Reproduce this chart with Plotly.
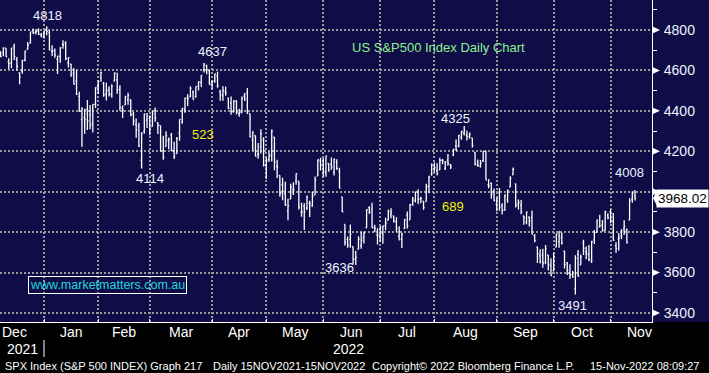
import pandas as pd
import plotly.graph_objects as go

# ---------------- data (S&P 500 daily OHLC, Dec 2021 - Nov 2022) ----------------
HOLIDAYS = ["2021-12-24", "2022-01-17", "2022-02-21", "2022-04-15",
            "2022-05-30", "2022-06-20", "2022-07-04", "2022-09-05"]
dates = pd.bdate_range("2021-12-01", "2022-11-14", freq="C",
                       holidays=HOLIDAYS).strftime("%Y-%m-%d").tolist()

open_px = [
    4602.82, 4504.73, 4589.49, 4548.37, 4631.97, 4690.86, 4691.00, 4687.64, 4710.30, 4642.99, 4636.46, 4719.13, 4652.50, 4587.90, 4594.96, 4650.36, 4703.96, 4733.99, 4795.49, 4788.64, 4794.23, 4775.21,
    4778.14, 4804.51, 4787.99, 4693.39, 4697.66, 4655.34, 4669.14, 4728.59, 4733.56, 4637.99, 4632.24, 4588.03, 4547.35, 4471.38, 4356.32, 4366.64, 4408.43, 4380.58, 4336.19, 4431.79,
    4519.57, 4566.39, 4535.41, 4482.79, 4505.75, 4480.02, 4547.00, 4553.24, 4506.27, 4412.61, 4429.28, 4455.75, 4456.06, 4384.57, 4332.74, 4324.93, 4155.77, 4298.38, 4354.17,
    4363.14, 4322.56, 4401.31, 4342.12, 4327.01, 4202.66, 4223.10, 4252.55, 4279.50, 4202.75, 4188.82, 4288.14, 4345.11, 4407.34, 4462.40, 4469.10, 4493.10, 4469.98, 4522.66, 4541.09, 4602.86, 4624.20, 4599.02,
    4540.32, 4547.97, 4572.45, 4494.17, 4474.65, 4494.15, 4462.64, 4437.59, 4394.30, 4449.12, 4385.63, 4390.63, 4472.26, 4489.17, 4385.83, 4255.34, 4278.14, 4186.52, 4222.58, 4253.75,
    4130.61, 4159.78, 4181.18, 4270.43, 4128.17, 4081.27, 4035.18, 3990.08, 3903.95, 3963.90, 4013.02, 4052.00, 4051.98, 3899.00, 3927.76, 3919.42, 3942.94, 3929.59, 3984.60, 4077.43, 4151.09,
    4149.78, 4095.41, 4137.57, 4134.72, 4096.47, 4147.12, 4101.65, 3974.39, 3838.15, 3763.52, 3764.05, 3728.18, 3665.90, 3715.31, 3733.89, 3774.71, 3821.75, 3920.76, 3913.00, 3825.09, 3785.99,
    3781.00, 3792.61, 3831.98, 3858.85, 3888.26, 3880.94, 3851.95, 3779.67, 3763.99, 3818.00, 3883.79, 3860.73, 3935.32, 3955.47, 3998.43, 3965.72, 3953.22, 3951.43, 4026.13, 4087.33,
    4112.38, 4104.21, 4107.96, 4154.85, 4115.87, 4155.93, 4133.11, 4181.02, 4227.40, 4225.02, 4269.37, 4290.46, 4280.40, 4273.13, 4266.31, 4195.08, 4133.09, 4126.55, 4153.26, 4198.74, 4034.58, 4041.25, 4000.67,
    3936.73, 3994.66, 3930.89, 3909.43, 3959.94, 4022.94, 4083.67, 4039.00, 3940.73, 3932.41, 3880.95, 3849.91, 3875.23, 3871.40, 3782.36, 3727.14, 3682.72, 3686.44, 3651.94, 3687.01, 3633.48,
    3609.78, 3726.46, 3753.25, 3771.97, 3706.74, 3647.51, 3595.86, 3590.83, 3520.37, 3690.41, 3638.65, 3746.26, 3703.11, 3689.05, 3657.10, 3762.01, 3799.44, 3825.97, 3834.69, 3808.26, 3881.85,
    3901.79, 3852.90, 3733.25, 3766.98, 3780.71, 3817.02, 3810.94, 3859.89, 3963.72, 3977.97,
]
high_px = [
    4652.94, 4595.46, 4608.03, 4612.60, 4694.04, 4705.06, 4695.26, 4713.57, 4710.30, 4660.47, 4712.60, 4731.99, 4666.70, 4591.03, 4651.14, 4697.67, 4740.74, 4791.49, 4807.02, 4804.06, 4808.93, 4786.83,
    4796.64, 4818.62, 4797.70, 4725.01, 4707.95, 4673.02, 4714.13, 4748.83, 4744.13, 4665.13, 4632.24, 4611.55, 4602.11, 4494.52, 4417.35, 4411.01, 4453.23, 4428.74, 4432.72, 4516.89,
    4550.49, 4595.31, 4542.88, 4539.66, 4521.86, 4531.32, 4590.03, 4588.92, 4526.33, 4426.22, 4472.77, 4489.55, 4456.06, 4394.60, 4362.12, 4341.51, 4294.73, 4385.34, 4388.84,
    4378.45, 4401.48, 4416.78, 4342.12, 4327.01, 4276.94, 4299.40, 4268.28, 4291.01, 4247.57, 4271.05, 4358.90, 4412.67, 4465.40, 4481.75, 4522.00, 4501.07, 4520.58, 4546.03, 4575.65, 4637.30, 4627.77, 4603.07,
    4548.70, 4583.50, 4593.45, 4503.94, 4521.16, 4520.41, 4464.35, 4471.00, 4453.92, 4452.61, 4410.31, 4471.03, 4488.29, 4512.94, 4385.83, 4299.02, 4278.14, 4240.71, 4308.45, 4269.68,
    4169.81, 4200.10, 4307.66, 4270.43, 4157.69, 4081.27, 4068.82, 4049.09, 3964.80, 4038.88, 4046.46, 4090.72, 4051.98, 3945.96, 3943.42, 3981.88, 3955.68, 3999.33, 4075.14, 4158.49, 4168.34,
    4166.54, 4177.51, 4142.67, 4168.78, 4164.86, 4160.14, 4119.10, 3974.39, 3838.15, 3778.18, 3837.56, 3728.18, 3707.71, 3779.65, 3801.79, 3802.58, 3913.65, 3927.72, 3945.86, 3836.50, 3818.99,
    3829.82, 3832.19, 3870.91, 3910.63, 3918.50, 3880.94, 3873.41, 3829.44, 3796.41, 3863.62, 3902.44, 3939.81, 3974.13, 3999.29, 4012.44, 3975.30, 3953.22, 4039.56, 4078.95, 4140.15,
    4144.95, 4140.47, 4167.66, 4161.29, 4151.58, 4186.62, 4137.30, 4211.03, 4257.91, 4280.47, 4301.79, 4325.28, 4302.18, 4292.53, 4266.31, 4195.08, 4159.77, 4156.56, 4200.54, 4203.04, 4062.99, 4044.98, 4015.37,
    3970.23, 4018.43, 3942.55, 3987.89, 4010.50, 4076.81, 4119.28, 4040.52, 3961.94, 3959.14, 3880.95, 3900.45, 3876.01, 3907.07, 3790.95, 3727.14, 3715.67, 3717.53, 3736.74, 3687.01, 3671.44,
    3698.35, 3791.92, 3806.91, 3797.93, 3706.74, 3652.17, 3640.66, 3608.34, 3685.41, 3712.00, 3689.73, 3762.79, 3728.58, 3736.00, 3757.89, 3810.74, 3862.85, 3886.15, 3859.95, 3905.42, 3893.73,
    3911.79, 3894.44, 3750.59, 3796.34, 3813.95, 3859.40, 3818.20, 3967.89, 4001.48, 4008.97,
]
low_px = [
    4510.27, 4504.73, 4495.12, 4540.51, 4631.97, 4674.52, 4665.98, 4670.24, 4667.60, 4606.52, 4611.22, 4651.89, 4600.22, 4531.10, 4583.16, 4645.53, 4703.96, 4733.99, 4780.04, 4778.08, 4775.33, 4765.75,
    4758.17, 4774.27, 4699.44, 4671.26, 4662.74, 4582.24, 4638.27, 4706.71, 4650.29, 4614.75, 4568.70, 4530.20, 4477.95, 4395.34, 4222.62, 4287.11, 4304.80, 4309.50, 4292.46, 4414.02,
    4483.53, 4544.32, 4470.39, 4451.50, 4471.47, 4465.40, 4547.00, 4484.31, 4401.41, 4364.84, 4429.28, 4429.68, 4373.81, 4327.22, 4267.11, 4221.51, 4114.65, 4286.83, 4315.12,
    4279.54, 4322.56, 4345.56, 4284.98, 4199.85, 4157.87, 4223.10, 4209.80, 4200.49, 4161.72, 4187.90, 4251.99, 4335.65, 4390.57, 4424.30, 4469.10, 4455.81, 4465.17, 4501.07, 4517.69, 4589.66, 4581.32, 4530.41,
    4507.57, 4539.21, 4514.17, 4450.04, 4450.30, 4474.60, 4408.38, 4381.34, 4392.70, 4381.44, 4370.30, 4390.63, 4448.76, 4384.47, 4267.62, 4200.82, 4175.04, 4162.90, 4188.63, 4124.28,
    4062.51, 4147.08, 4148.91, 4106.01, 4067.91, 3975.48, 3958.17, 3928.82, 3858.87, 3963.90, 3983.99, 4033.93, 3911.91, 3876.58, 3810.32, 3909.04, 3875.13, 3925.03, 3984.60, 4077.43, 4104.88,
    4073.85, 4074.37, 4098.67, 4109.18, 4080.19, 4107.20, 4017.17, 3900.16, 3734.30, 3722.30, 3722.30, 3639.77, 3636.87, 3715.31, 3717.69, 3743.52, 3821.75, 3889.66, 3820.14, 3799.02, 3738.67,
    3752.10, 3742.06, 3809.37, 3858.85, 3869.34, 3847.22, 3802.36, 3759.07, 3721.56, 3817.18, 3818.63, 3860.73, 3930.41, 3946.77, 3938.85, 3943.46, 3910.74, 3951.43, 3992.97, 4079.22,
    4096.02, 4079.81, 4107.96, 4135.42, 4107.31, 4128.97, 4112.09, 4177.26, 4201.41, 4219.78, 4256.90, 4277.77, 4253.08, 4261.98, 4218.70, 4129.86, 4124.03, 4119.97, 4147.59, 4057.66, 4017.42, 3965.21, 3954.53,
    3903.65, 3906.21, 3886.75, 3906.03, 3944.81, 4022.94, 4083.67, 3921.73, 3912.07, 3888.28, 3837.08, 3838.50, 3827.54, 3789.49, 3749.45, 3647.47, 3644.76, 3623.29, 3640.61, 3610.40, 3584.13,
    3604.93, 3726.46, 3722.66, 3739.22, 3620.73, 3588.10, 3568.45, 3573.86, 3491.58, 3579.68, 3638.65, 3686.53, 3666.51, 3656.44, 3647.42, 3741.65, 3799.44, 3824.07, 3803.79, 3808.26, 3863.18,
    3843.80, 3758.68, 3698.15, 3708.84, 3764.70, 3786.28, 3744.22, 3859.89, 3944.82, 3956.40,
]
close_px = [
    4513.04, 4577.10, 4538.43, 4591.67, 4686.75, 4701.21, 4667.45, 4712.02, 4668.97, 4634.09, 4709.85, 4668.67, 4620.64, 4568.02, 4649.23, 4696.56, 4725.79, 4791.19, 4786.35, 4793.06, 4778.73, 4766.18,
    4796.56, 4793.54, 4700.58, 4696.05, 4677.03, 4670.29, 4713.07, 4726.35, 4659.03, 4662.85, 4577.11, 4532.76, 4482.73, 4397.94, 4410.13, 4356.45, 4349.93, 4326.51, 4431.85, 4515.55,
    4546.54, 4589.38, 4477.44, 4500.53, 4483.87, 4521.54, 4587.18, 4504.08, 4418.64, 4401.67, 4471.07, 4475.01, 4380.26, 4348.87, 4304.76, 4225.50, 4288.70, 4384.65, 4373.94,
    4306.26, 4386.54, 4363.49, 4328.87, 4201.09, 4170.70, 4277.88, 4259.52, 4204.31, 4173.11, 4262.45, 4357.86, 4411.67, 4463.12, 4461.18, 4511.61, 4456.24, 4520.16, 4543.06, 4575.52, 4631.60, 4602.45, 4530.41,
    4545.86, 4582.64, 4525.12, 4481.15, 4500.21, 4488.28, 4412.53, 4397.45, 4446.59, 4392.59, 4391.69, 4462.21, 4459.45, 4393.66, 4271.78, 4296.12, 4175.20, 4183.96, 4287.50, 4131.93,
    4155.38, 4175.48, 4300.17, 4146.87, 4123.34, 3991.24, 4001.05, 3935.18, 3930.08, 4023.89, 4008.01, 4088.85, 3923.68, 3900.79, 3901.36, 3973.75, 3941.48, 3978.73, 4057.84, 4158.24, 4132.15,
    4101.23, 4176.82, 4108.54, 4121.43, 4160.68, 4115.77, 4017.82, 3900.86, 3749.63, 3735.48, 3789.99, 3666.77, 3674.84, 3764.79, 3759.89, 3795.73, 3911.74, 3900.11, 3821.55, 3818.83, 3785.38,
    3825.33, 3831.39, 3845.08, 3902.62, 3899.38, 3854.43, 3818.80, 3801.78, 3790.38, 3863.16, 3830.85, 3936.69, 3959.90, 3998.95, 3961.63, 3966.84, 3921.05, 4023.61, 4072.43, 4130.29,
    4118.63, 4091.19, 4155.17, 4151.94, 4145.19, 4140.06, 4122.47, 4210.24, 4207.27, 4280.15, 4297.14, 4305.20, 4274.04, 4283.74, 4228.48, 4137.99, 4128.73, 4140.77, 4199.12, 4057.66, 4030.61, 3986.16, 3955.00,
    3966.85, 3924.26, 3908.19, 3979.87, 4006.18, 4067.36, 4110.41, 3932.69, 3946.01, 3901.35, 3873.33, 3899.89, 3855.93, 3789.93, 3757.99, 3693.23, 3655.04, 3647.29, 3719.04, 3640.47, 3585.62,
    3678.43, 3790.93, 3783.28, 3744.52, 3639.66, 3612.39, 3588.84, 3577.03, 3669.91, 3583.07, 3677.95, 3719.98, 3695.16, 3665.78, 3752.75, 3797.34, 3859.11, 3830.60, 3807.30, 3901.06, 3871.98,
    3856.10, 3759.69, 3719.89, 3770.55, 3806.80, 3828.11, 3748.57, 3956.37, 3992.93, 3968.02,
]
assert len(open_px) == len(high_px) == len(low_px) == len(close_px) == len(dates)

y_ticks = [3400, 3600, 3800, 4000, 4200, 4400, 4600, 4800]
y_minor = [3500, 3700, 3900, 4100, 4300, 4500, 4700, 4900]
month_names = ["Dec", "Jan", "Feb", "Mar", "Apr", "May", "Jun",
               "Jul", "Aug", "Sep", "Oct", "Nov"]
years = ["2021", "2022"]
level_labels = ["4818", "4637", "4114", "4325", "3636", "3491", "4008"]
range_labels = ["523", "689"]
last_price = "3968.02"
title_text = "US S&P500 Index Daily Chart"
watermark = "www.marketmatters.com.au"
footer = ["SPX Index (S&P 500 INDEX) Graph 217", "Daily 15NOV2021-15NOV2022",
          "Copyright\u00a9 2022 Bloomberg Finance L.P.", "15-Nov-2022 08:09:27"]

# ---------------- layout helpers ----------------
W, H = 709, 373
ML, MR, MT, MB = 0, 57, 0, 51
PW, PH = W - ML - MR, H - MT - MB  # 652 x 322
X_RANGE = [5.77, 246.27]
Y_RANGE = [3355.5, 4948.4]

NAVY = "#0f0c48"
WHITE_TXT = "#eef3ff"
GRID = "#9a9a9a"
SANS = "Liberation Sans, Arial, sans-serif"


def px(x, y):
    return x / PW, 1 - y / PH


month_starts = [i for i, d in enumerate(dates) if i == 0 or d[:7] != dates[i - 1][:7]]
month_bounds = month_starts + [month_starts[-1] + 21]

fig = go.Figure()
fig.add_trace(go.Ohlc(
    x=dates, open=open_px, high=high_px, low=low_px, close=close_px,
    increasing=dict(line=dict(color="white", width=1.3)),
    decreasing=dict(line=dict(color="white", width=1.3)),
    tickwidth=0.4, hoverinfo="skip", showlegend=False,
))

ann = []
for k, name in enumerate(month_names):
    cx = (month_bounds[k] + month_bounds[k + 1]) / 2.0
    ann.append(dict(x=cx, xref="x", y=px(0, 332)[1], yref="paper", text=name,
                    showarrow=False, xanchor="center", yanchor="middle",
                    font=dict(family=SANS, size=14, color="white")))
for txt, xp in zip(years, [22, 348]):
    ann.append(dict(x=px(xp, 0)[0], xref="paper", y=px(0, 348.5)[1], yref="paper", text=txt,
                    showarrow=False, xanchor="center", yanchor="middle",
                    font=dict(family=SANS, size=14, color="white")))
for txt, xp in zip(footer, [3, 211, 370, 588]):
    ann.append(dict(x=px(xp, 0)[0], xref="paper", y=px(0, 365.5)[1], yref="paper", text=txt,
                    showarrow=False, xanchor="left", yanchor="middle",
                    font=dict(family=SANS, size=11, color="white")))

lvl_pos = [(47, 15), (212, 52), (150, 178), (455, 118), (339, 267), (572, 305), (629.5, 172)]
for txt, (xp, yp) in zip(level_labels, lvl_pos):
    x, y = px(xp, yp)
    ann.append(dict(x=x, xref="paper", y=y, yref="paper", text=txt, showarrow=False,
                    xanchor="center", yanchor="middle",
                    font=dict(family=SANS, size=13, color=WHITE_TXT)))
for txt, (xp, yp) in zip(range_labels, [(202.5, 134), (453, 206)]):
    x, y = px(xp, yp)
    ann.append(dict(x=x, xref="paper", y=y, yref="paper", text=txt, showarrow=False,
                    xanchor="center", yanchor="middle",
                    font=dict(family=SANS, size=13, color="#f2f200")))
x, y = px(438, 47)
ann.append(dict(x=x, xref="paper", y=y, yref="paper", text=title_text, showarrow=False,
                xanchor="center", yanchor="middle",
                font=dict(family=SANS, size=13, color="#8ef08e")))
x, y = px(108, 284.5)
ann.append(dict(x=x, xref="paper", y=y, yref="paper", text=watermark, showarrow=False,
                xanchor="center", yanchor="middle", bordercolor="white", borderwidth=1,
                borderpad=1, font=dict(family=SANS, size=12.5, color="#22d8de")))
ann.append(dict(x=px(656, 0)[0], xref="paper", y=close_px[-1], yref="y", text=last_price,
                showarrow=False, xanchor="left", yanchor="middle", bgcolor="white",
                borderpad=1, font=dict(family=SANS, size=13.5, color="black")))

shapes = []
shapes.append(dict(type="rect", xref="paper", yref="paper", x0=-0.01, x1=W / PW + 0.01,
                   y0=-MB / PH - 0.01, y1=0, fillcolor="black", line=dict(width=0),
                   layer="below"))
shapes.append(dict(type="line", xref="paper", yref="paper", x0=44 / PW, x1=44 / PW,
                   y0=px(0, 340)[1], y1=px(0, 357)[1], line=dict(color="white", width=1)))
k = (Y_RANGE[1] - Y_RANGE[0]) / PH  # data units per pixel
for v in y_ticks:
    shapes.append(dict(type="path", xref="paper", yref="y",
                       path=f"M {653/PW},{v + 3.2*k} L {660/PW},{v} L {653/PW},{v - 3.2*k} Z",
                       fillcolor="white", line=dict(width=0)))
c = close_px[-1]
shapes.append(dict(type="path", xref="paper", yref="y",
                   path=f"M {653/PW},{c} L {657/PW},{c + 7.6*k} L {657/PW},{c - 7.6*k} Z",
                   fillcolor="white", line=dict(width=0)))

fig.update_layout(
    width=W, height=H, margin=dict(l=ML, r=MR, t=MT, b=MB),
    paper_bgcolor=NAVY, plot_bgcolor=NAVY, showlegend=False,
    annotations=ann, shapes=shapes,
    xaxis=dict(type="category", range=X_RANGE, rangeslider=dict(visible=False),
               tickmode="array", tickvals=[dates[i] for i in month_starts],
               showticklabels=False, ticks="inside", ticklen=3, tickcolor="white",
               showgrid=True, gridcolor=GRID, griddash="2px,2px", gridwidth=2,
               showline=True, linecolor="white", linewidth=1, zeroline=False),
    yaxis=dict(side="right", range=Y_RANGE, tickmode="array", tickvals=y_ticks,
               ticktext=[str(v) if v != 4000 else "" for v in y_ticks],
               ticks="outside", ticklen=8, tickcolor="rgba(0,0,0,0)",
               tickfont=dict(family=SANS, size=14, color=WHITE_TXT),
               minor=dict(tickmode="array", tickvals=y_minor, ticks="outside",
                          ticklen=4, tickcolor="white", showgrid=False),
               showgrid=True, gridcolor=GRID, griddash="2px,2px", gridwidth=2,
               showline=True, linecolor="white", linewidth=1, zeroline=False),
)

fig.write_html("out.html", config={"displayModeBar": False}, post_script=(
    "document.body.style.margin='0';document.body.style.padding='0';"
    "document.body.style.overflow='hidden';"))
